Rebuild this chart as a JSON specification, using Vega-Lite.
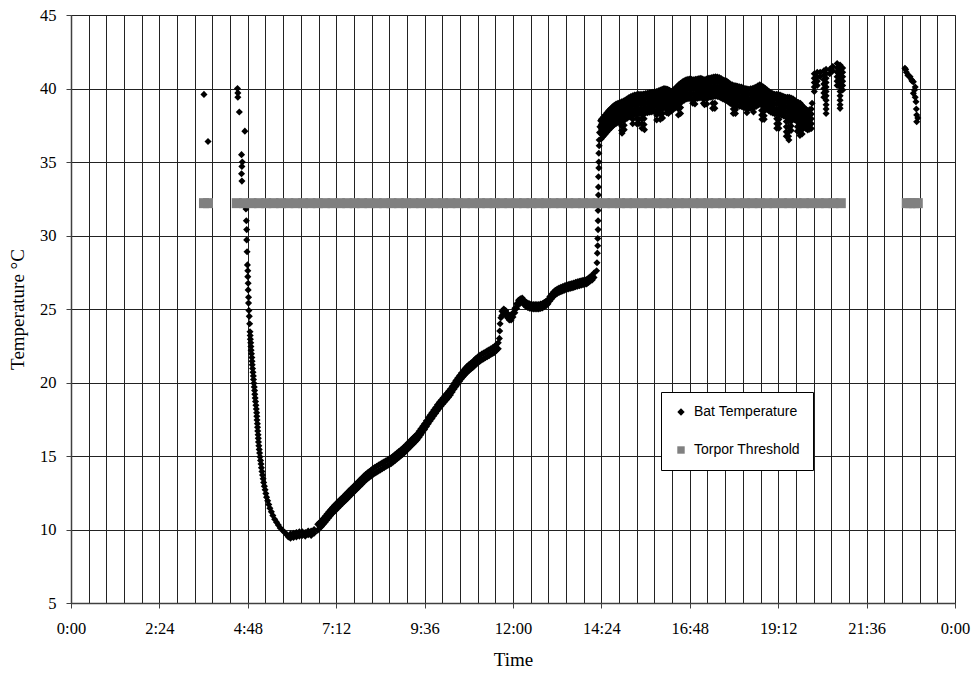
{
"$schema": "https://vega.github.io/schema/vega-lite/v6.json",
"width": 884, "height": 588,
"autosize": "none",
"padding": {"left": 71, "top": 15, "right": 20, "bottom": 78},
"background": "white",
"config": {
 "view": {"stroke": "#808080", "strokeWidth": 1},
 "axis": {"labelFont": "Liberation Serif", "labelFontSize": 16.5, "labelColor": "black", "titleFont": "Liberation Serif", "titleFontSize": 19, "titleFontWeight": "normal", "titleColor": "black", "grid": true, "gridColor": "#222222", "gridWidth": 1, "gridOpacity": 1, "domainColor": "#404040", "domainWidth": 1.5, "tickColor": "#404040", "tickSize": 5, "labelOverlap": false, "labelFlush": false},
 "legend": {"orient": "none", "legendX": 590, "legendY": 377, "labelFont": "Liberation Sans", "labelFontSize": 14, "labelColor": "black", "padding": 13, "rowPadding": 24, "strokeColor": "black", "fillColor": "white", "symbolSize": 55, "symbolStrokeWidth": 0, "labelOffset": 6}
},
"datasets": {
"threshold": [
{"t":3.61,"thr":32.2},{"t":3.72,"thr":32.2},
{"t":4.5,"thr":32.2},{"t":4.7,"thr":32.2},{"t":4.9,"thr":32.2},{"t":5.1,"thr":32.2},{"t":5.3,"thr":32.2},{"t":5.5,"thr":32.2},{"t":5.7,"thr":32.2},{"t":5.9,"thr":32.2},{"t":6.1,"thr":32.2},{"t":6.3,"thr":32.2},{"t":6.5,"thr":32.2},{"t":6.7,"thr":32.2},{"t":6.9,"thr":32.2},{"t":7.1,"thr":32.2},{"t":7.3,"thr":32.2},{"t":7.5,"thr":32.2},{"t":7.7,"thr":32.2},{"t":7.9,"thr":32.2},{"t":8.1,"thr":32.2},{"t":8.3,"thr":32.2},{"t":8.5,"thr":32.2},{"t":8.7,"thr":32.2},{"t":8.9,"thr":32.2},{"t":9.1,"thr":32.2},{"t":9.3,"thr":32.2},{"t":9.5,"thr":32.2},{"t":9.7,"thr":32.2},{"t":9.9,"thr":32.2},{"t":10.1,"thr":32.2},{"t":10.3,"thr":32.2},{"t":10.5,"thr":32.2},{"t":10.7,"thr":32.2},{"t":10.9,"thr":32.2},{"t":11.1,"thr":32.2},{"t":11.3,"thr":32.2},{"t":11.5,"thr":32.2},{"t":11.7,"thr":32.2},{"t":11.9,"thr":32.2},{"t":12.1,"thr":32.2},{"t":12.3,"thr":32.2},{"t":12.5,"thr":32.2},{"t":12.7,"thr":32.2},{"t":12.9,"thr":32.2},{"t":13.1,"thr":32.2},{"t":13.3,"thr":32.2},{"t":13.5,"thr":32.2},{"t":13.7,"thr":32.2},{"t":13.9,"thr":32.2},{"t":14.1,"thr":32.2},{"t":14.3,"thr":32.2},{"t":14.5,"thr":32.2},{"t":14.7,"thr":32.2},{"t":14.9,"thr":32.2},{"t":15.1,"thr":32.2},{"t":15.3,"thr":32.2},{"t":15.5,"thr":32.2},{"t":15.7,"thr":32.2},{"t":15.9,"thr":32.2},{"t":16.1,"thr":32.2},{"t":16.3,"thr":32.2},{"t":16.5,"thr":32.2},{"t":16.7,"thr":32.2},{"t":16.9,"thr":32.2},{"t":17.1,"thr":32.2},{"t":17.3,"thr":32.2},{"t":17.5,"thr":32.2},{"t":17.7,"thr":32.2},{"t":17.9,"thr":32.2},{"t":18.1,"thr":32.2},{"t":18.3,"thr":32.2},{"t":18.5,"thr":32.2},{"t":18.7,"thr":32.2},{"t":18.9,"thr":32.2},{"t":19.1,"thr":32.2},{"t":19.3,"thr":32.2},{"t":19.5,"thr":32.2},{"t":19.7,"thr":32.2},{"t":19.9,"thr":32.2},{"t":20.1,"thr":32.2},{"t":20.3,"thr":32.2},{"t":20.5,"thr":32.2},{"t":20.7,"thr":32.2},{"t":20.9,"thr":32.2},
{"t":22.69,"thr":32.2},{"t":22.79,"thr":32.2},{"t":22.89,"thr":32.2},{"t":22.99,"thr":32.2}
],
"bat": [
{"t":3.61,"b":39.6},{"t":3.72,"b":36.4},
{"t":4.52,"b":40.0},{"t":4.53,"b":39.7},{"t":4.53,"b":39.4},{"t":4.57,"b":38.4},{"t":4.72,"b":37.1},{"t":4.63,"b":35.5},{"t":4.65,"b":35.0},{"t":4.64,"b":34.7},{"t":4.63,"b":34.2},{"t":4.64,"b":33.7},
{"t":4.75,"b":31.8},{"t":4.76,"b":31.0},{"t":4.77,"b":30.4},{"t":4.77,"b":29.7},{"t":4.78,"b":28.9},{"t":4.79,"b":28.0},{"t":4.8,"b":27.6},{"t":4.8,"b":27.2},{"t":4.81,"b":26.75},{"t":4.81,"b":26.3},{"t":4.82,"b":25.8},{"t":4.82,"b":25.4},{"t":4.83,"b":24.9},{"t":4.84,"b":24.5},{"t":4.85,"b":24.0},
{"t":4.86,"b":23.45},{"t":4.865,"b":23.2},{"t":4.87,"b":22.95},{"t":4.88,"b":22.7},{"t":4.885,"b":22.45},{"t":4.89,"b":22.2},{"t":4.9,"b":21.95},{"t":4.91,"b":21.7},{"t":4.915,"b":21.45},{"t":4.92,"b":21.2},{"t":4.93,"b":20.95},{"t":4.94,"b":20.7},{"t":4.95,"b":20.45},{"t":4.955,"b":20.2},{"t":4.965,"b":19.95},{"t":4.975,"b":19.7},{"t":4.985,"b":19.45},{"t":4.99,"b":19.2},{"t":5.0,"b":18.95},{"t":5.01,"b":18.7},{"t":5.02,"b":18.45},{"t":5.03,"b":18.2},{"t":5.04,"b":17.95},{"t":5.045,"b":17.7},{"t":5.05,"b":17.45},{"t":5.06,"b":17.2},{"t":5.065,"b":16.95},{"t":5.07,"b":16.7},{"t":5.08,"b":16.45},{"t":5.085,"b":16.2},{"t":5.09,"b":15.95},{"t":5.1,"b":15.7},{"t":5.11,"b":15.45},{"t":5.12,"b":15.2},{"t":5.13,"b":14.95},{"t":5.145,"b":14.7},{"t":5.16,"b":14.45},{"t":5.17,"b":14.2},{"t":5.185,"b":13.95},{"t":5.2,"b":13.7},{"t":5.215,"b":13.45},{"t":5.23,"b":13.2},{"t":5.25,"b":12.95},{"t":5.27,"b":12.7},{"t":5.29,"b":12.45},{"t":5.31,"b":12.2},{"t":5.34,"b":11.95},{"t":5.37,"b":11.7},{"t":5.4,"b":11.45},{"t":5.44,"b":11.2},{"t":5.48,"b":10.95},{"t":5.53,"b":10.7},{"t":5.58,"b":10.5},{"t":5.63,"b":10.3},{"t":5.68,"b":10.1},{"t":5.74,"b":9.95},{"t":5.8,"b":9.8},{"t":5.86,"b":9.65},{"t":5.9,"b":9.5},
{"t":5.96,"b":9.4},{"t":5.96,"b":9.7},{"t":6.04,"b":9.45},{"t":6.04,"b":9.75},{"t":6.12,"b":9.5},{"t":6.12,"b":9.8},{"t":6.2,"b":9.55},{"t":6.2,"b":9.85},{"t":6.28,"b":9.6},{"t":6.28,"b":9.85},{"t":6.36,"b":9.55},{"t":6.36,"b":9.8},{"t":6.44,"b":9.65},{"t":6.44,"b":9.9},{"t":6.52,"b":9.6},{"t":6.52,"b":9.9},{"t":6.6,"b":9.75},{"t":6.6,"b":10.0},
{"t":6.7,"b":9.95},{"t":6.7,"b":10.35},{"t":6.75,"b":10.08},{"t":6.75,"b":10.48},{"t":6.8,"b":10.2},{"t":6.8,"b":10.6},{"t":6.85,"b":10.35},{"t":6.85,"b":10.75},{"t":6.9,"b":10.5},{"t":6.9,"b":10.9},{"t":6.95,"b":10.65},{"t":6.95,"b":11.05},{"t":7.0,"b":10.8},{"t":7.0,"b":11.2},{"t":7.05,"b":10.95},{"t":7.05,"b":11.35},{"t":7.1,"b":11.1},{"t":7.1,"b":11.5},{"t":7.15,"b":11.23},{"t":7.15,"b":11.63},{"t":7.2,"b":11.35},{"t":7.2,"b":11.75},{"t":7.25,"b":11.48},{"t":7.25,"b":11.88},{"t":7.3,"b":11.6},{"t":7.3,"b":12.0},{"t":7.35,"b":11.73},{"t":7.35,"b":12.13},{"t":7.4,"b":11.85},{"t":7.4,"b":12.25},{"t":7.45,"b":11.98},{"t":7.45,"b":12.38},{"t":7.5,"b":12.1},{"t":7.5,"b":12.5},{"t":7.55,"b":12.23},{"t":7.55,"b":12.63},{"t":7.6,"b":12.35},{"t":7.6,"b":12.75},{"t":7.65,"b":12.48},{"t":7.65,"b":12.88},{"t":7.7,"b":12.6},{"t":7.7,"b":13.0},{"t":7.75,"b":12.73},{"t":7.75,"b":13.13},{"t":7.8,"b":12.85},{"t":7.8,"b":13.25},{"t":7.85,"b":12.98},{"t":7.85,"b":13.38},{"t":7.9,"b":13.1},{"t":7.9,"b":13.5},{"t":7.95,"b":13.23},{"t":7.95,"b":13.63},{"t":8.0,"b":13.35},{"t":8.0,"b":13.75},{"t":8.05,"b":13.45},{"t":8.05,"b":13.85},{"t":8.1,"b":13.55},{"t":8.1,"b":13.95},{"t":8.15,"b":13.65},{"t":8.15,"b":14.05},{"t":8.2,"b":13.75},{"t":8.2,"b":14.15},{"t":8.25,"b":13.83},{"t":8.25,"b":14.23},{"t":8.3,"b":13.9},{"t":8.3,"b":14.3},{"t":8.35,"b":13.98},{"t":8.35,"b":14.38},{"t":8.4,"b":14.05},{"t":8.4,"b":14.45},{"t":8.45,"b":14.13},{"t":8.45,"b":14.53},{"t":8.5,"b":14.2},{"t":8.5,"b":14.6},{"t":8.55,"b":14.28},{"t":8.55,"b":14.68},{"t":8.6,"b":14.35},{"t":8.6,"b":14.75},{"t":8.65,"b":14.43},{"t":8.65,"b":14.83},{"t":8.7,"b":14.5},{"t":8.7,"b":14.9},{"t":8.75,"b":14.6},{"t":8.75,"b":15.0},{"t":8.8,"b":14.7},{"t":8.8,"b":15.1},{"t":8.85,"b":14.8},{"t":8.85,"b":15.2},{"t":8.9,"b":14.9},{"t":8.9,"b":15.3},{"t":8.95,"b":15.0},{"t":8.95,"b":15.4},{"t":9.0,"b":15.1},{"t":9.0,"b":15.5},{"t":9.05,"b":15.23},{"t":9.05,"b":15.63},{"t":9.1,"b":15.35},{"t":9.1,"b":15.75},{"t":9.15,"b":15.48},{"t":9.15,"b":15.88},{"t":9.2,"b":15.6},{"t":9.2,"b":16.0},{"t":9.25,"b":15.73},{"t":9.25,"b":16.13},{"t":9.3,"b":15.85},{"t":9.3,"b":16.25},{"t":9.35,"b":15.98},{"t":9.35,"b":16.38},{"t":9.4,"b":16.1},{"t":9.4,"b":16.5},{"t":9.45,"b":16.28},{"t":9.45,"b":16.68},{"t":9.5,"b":16.45},{"t":9.5,"b":16.85},{"t":9.55,"b":16.63},{"t":9.55,"b":17.03},{"t":9.6,"b":16.8},{"t":9.6,"b":17.2},{"t":9.65,"b":17.0},{"t":9.65,"b":17.4},{"t":9.7,"b":17.2},{"t":9.7,"b":17.6},{"t":9.75,"b":17.38},{"t":9.75,"b":17.78},{"t":9.8,"b":17.55},{"t":9.8,"b":17.95},{"t":9.85,"b":17.73},{"t":9.85,"b":18.13},{"t":9.9,"b":17.9},{"t":9.9,"b":18.3},{"t":9.95,"b":18.08},{"t":9.95,"b":18.48},{"t":10.0,"b":18.25},{"t":10.0,"b":18.65},{"t":10.05,"b":18.4},{"t":10.05,"b":18.8},{"t":10.1,"b":18.55},{"t":10.1,"b":18.95},{"t":10.15,"b":18.7},{"t":10.15,"b":19.1},{"t":10.2,"b":18.85},{"t":10.2,"b":19.25},{"t":10.25,"b":19.0},{"t":10.25,"b":19.4},{"t":10.3,"b":19.15},{"t":10.3,"b":19.55},{"t":10.35,"b":19.35},{"t":10.35,"b":19.75},{"t":10.4,"b":19.55},{"t":10.4,"b":19.95},{"t":10.45,"b":19.73},{"t":10.45,"b":20.13},{"t":10.5,"b":19.9},{"t":10.5,"b":20.3},{"t":10.55,"b":20.08},{"t":10.55,"b":20.48},{"t":10.6,"b":20.25},{"t":10.6,"b":20.65},{"t":10.65,"b":20.4},{"t":10.65,"b":20.8},{"t":10.7,"b":20.55},{"t":10.7,"b":20.95},{"t":10.75,"b":20.68},{"t":10.75,"b":21.08},{"t":10.8,"b":20.8},{"t":10.8,"b":21.2},{"t":10.85,"b":20.9},{"t":10.85,"b":21.3},{"t":10.9,"b":21.0},{"t":10.9,"b":21.4},{"t":10.95,"b":21.13},{"t":10.95,"b":21.53},{"t":11.0,"b":21.25},{"t":11.0,"b":21.65},{"t":11.05,"b":21.35},{"t":11.05,"b":21.75},{"t":11.1,"b":21.45},{"t":11.1,"b":21.85},{"t":11.15,"b":21.53},{"t":11.15,"b":21.93},{"t":11.2,"b":21.6},{"t":11.2,"b":22.0},{"t":11.25,"b":21.68},{"t":11.25,"b":22.08},{"t":11.3,"b":21.75},{"t":11.3,"b":22.15},{"t":11.35,"b":21.83},{"t":11.35,"b":22.23},{"t":11.4,"b":21.9},{"t":11.4,"b":22.3},{"t":11.45,"b":21.98},{"t":11.45,"b":22.38},{"t":11.5,"b":22.05},{"t":11.5,"b":22.45},{"t":11.55,"b":22.18},{"t":11.55,"b":22.58},{"t":11.6,"b":22.3},{"t":11.6,"b":22.7},
{"t":11.63,"b":23.0},{"t":11.64,"b":23.5},{"t":11.65,"b":24.0},{"t":11.67,"b":24.4},
{"t":11.7,"b":24.55},{"t":11.7,"b":24.85},{"t":11.75,"b":24.7},{"t":11.75,"b":25.0},{"t":11.8,"b":24.6},{"t":11.8,"b":24.9},{"t":11.85,"b":24.4},{"t":11.85,"b":24.7},{"t":11.9,"b":24.25},{"t":11.9,"b":24.55},{"t":11.95,"b":24.25},{"t":11.95,"b":24.55},{"t":12.0,"b":24.45},{"t":12.0,"b":24.75},{"t":12.05,"b":24.75},{"t":12.05,"b":25.05},{"t":12.1,"b":25.05},{"t":12.1,"b":25.35},{"t":12.15,"b":25.3},{"t":12.15,"b":25.6},{"t":12.2,"b":25.4},{"t":12.2,"b":25.7},{"t":12.25,"b":25.45},{"t":12.25,"b":25.75},{"t":12.3,"b":25.3},{"t":12.3,"b":25.6},{"t":12.35,"b":25.17},{"t":12.35,"b":25.47},{"t":12.4,"b":25.1},{"t":12.4,"b":25.4},{"t":12.45,"b":25.05},{"t":12.45,"b":25.35},{"t":12.5,"b":25.02},{"t":12.5,"b":25.32},{"t":12.55,"b":25.0},{"t":12.55,"b":25.3},{"t":12.6,"b":25.0},{"t":12.6,"b":25.3},{"t":12.65,"b":25.0},{"t":12.65,"b":25.3},{"t":12.7,"b":25.0},{"t":12.7,"b":25.3},{"t":12.75,"b":25.03},{"t":12.75,"b":25.33},{"t":12.8,"b":25.07},{"t":12.8,"b":25.37},{"t":12.85,"b":25.15},{"t":12.85,"b":25.45},{"t":12.9,"b":25.23},{"t":12.9,"b":25.53},{"t":12.95,"b":25.35},{"t":12.95,"b":25.65},{"t":13.0,"b":25.55},{"t":13.0,"b":25.85},{"t":13.05,"b":25.7},{"t":13.05,"b":26.0},{"t":13.1,"b":25.85},{"t":13.1,"b":26.15},{"t":13.15,"b":25.97},{"t":13.15,"b":26.27},{"t":13.2,"b":26.05},{"t":13.2,"b":26.35},{"t":13.25,"b":26.12},{"t":13.25,"b":26.42},{"t":13.3,"b":26.17},{"t":13.3,"b":26.47},{"t":13.35,"b":26.23},{"t":13.35,"b":26.53},{"t":13.4,"b":26.28},{"t":13.4,"b":26.58},{"t":13.45,"b":26.33},{"t":13.45,"b":26.63},{"t":13.5,"b":26.37},{"t":13.5,"b":26.67},{"t":13.55,"b":26.4},{"t":13.55,"b":26.7},{"t":13.6,"b":26.43},{"t":13.6,"b":26.73},{"t":13.65,"b":26.47},{"t":13.65,"b":26.77},{"t":13.7,"b":26.51},{"t":13.7,"b":26.81},{"t":13.75,"b":26.55},{"t":13.75,"b":26.85},{"t":13.8,"b":26.59},{"t":13.8,"b":26.89},{"t":13.85,"b":26.62},{"t":13.85,"b":26.92},{"t":13.9,"b":26.65},{"t":13.9,"b":26.95},{"t":13.95,"b":26.68},{"t":13.95,"b":26.98},{"t":14.0,"b":26.71},{"t":14.0,"b":27.01},{"t":14.05,"b":26.8},{"t":14.05,"b":27.1},{"t":14.1,"b":26.9},{"t":14.1,"b":27.2},{"t":14.15,"b":26.97},{"t":14.15,"b":27.27},{"t":14.2,"b":27.15},{"t":14.2,"b":27.45},
{"t":14.27,"b":27.6},{"t":14.28,"b":28.15},{"t":14.29,"b":28.8},{"t":14.3,"b":29.3},{"t":14.3,"b":29.8},{"t":14.31,"b":30.4},{"t":14.31,"b":31.0},{"t":14.31,"b":31.7},{"t":14.32,"b":32.3},{"t":14.32,"b":32.75},{"t":14.32,"b":33.3},{"t":14.32,"b":34.0},{"t":14.33,"b":34.6},{"t":14.33,"b":35.0},{"t":14.33,"b":35.6},{"t":14.34,"b":36.1},{"t":14.34,"b":36.5},{"t":14.35,"b":37.0},{"t":14.36,"b":37.4},{"t":14.38,"b":37.8},
{"t":14.4,"b":37.9},{"t":14.4,"b":37.57},{"t":14.4,"b":37.24},{"t":14.4,"b":36.91},{"t":14.4,"b":36.58},
{"t":14.45,"b":38.05},{"t":14.45,"b":37.72},{"t":14.45,"b":37.39},{"t":14.45,"b":37.06},{"t":14.45,"b":36.73},
{"t":14.5,"b":38.2},{"t":14.5,"b":37.87},{"t":14.5,"b":37.54},{"t":14.5,"b":37.21},{"t":14.5,"b":36.88},
{"t":14.55,"b":38.35},{"t":14.55,"b":38.02},{"t":14.55,"b":37.69},{"t":14.55,"b":37.36},{"t":14.55,"b":37.03},
{"t":14.6,"b":38.5},{"t":14.6,"b":38.17},{"t":14.6,"b":37.84},{"t":14.6,"b":37.51},{"t":14.6,"b":37.18},
{"t":14.65,"b":38.62},{"t":14.65,"b":38.29},{"t":14.65,"b":37.96},{"t":14.65,"b":37.63},{"t":14.65,"b":37.3},
{"t":14.7,"b":38.75},{"t":14.7,"b":38.42},{"t":14.7,"b":38.09},{"t":14.7,"b":37.76},{"t":14.7,"b":37.43},
{"t":14.75,"b":38.85},{"t":14.75,"b":38.52},{"t":14.75,"b":38.19},{"t":14.75,"b":37.86},{"t":14.75,"b":37.53},
{"t":14.8,"b":38.95},{"t":14.8,"b":38.62},{"t":14.8,"b":38.29},{"t":14.8,"b":37.96},{"t":14.8,"b":37.63},
{"t":14.85,"b":39.0},{"t":14.85,"b":38.67},{"t":14.85,"b":38.34},{"t":14.85,"b":38.01},{"t":14.85,"b":37.68},
{"t":14.9,"b":39.05},{"t":14.9,"b":38.72},{"t":14.9,"b":38.39},{"t":14.9,"b":38.06},{"t":14.9,"b":37.73},
{"t":14.95,"b":39.1},{"t":14.95,"b":38.77},{"t":14.95,"b":38.44},{"t":14.95,"b":38.11},{"t":14.95,"b":37.78},
{"t":15.0,"b":39.15},{"t":15.0,"b":38.82},{"t":15.0,"b":38.49},{"t":15.0,"b":38.16},{"t":15.0,"b":37.83},
{"t":15.05,"b":39.22},{"t":15.05,"b":38.89},{"t":15.05,"b":38.56},{"t":15.05,"b":38.23},{"t":15.05,"b":37.9},
{"t":15.1,"b":39.3},{"t":15.1,"b":38.97},{"t":15.1,"b":38.64},{"t":15.1,"b":38.31},{"t":15.1,"b":37.98},
{"t":15.15,"b":39.38},{"t":15.15,"b":39.05},{"t":15.15,"b":38.72},{"t":15.15,"b":38.39},{"t":15.15,"b":38.06},
{"t":15.2,"b":39.45},{"t":15.2,"b":39.12},{"t":15.2,"b":38.79},{"t":15.2,"b":38.46},{"t":15.2,"b":38.13},
{"t":15.25,"b":39.5},{"t":15.25,"b":39.17},{"t":15.25,"b":38.84},{"t":15.25,"b":38.51},{"t":15.25,"b":38.18},
{"t":15.3,"b":39.55},{"t":15.3,"b":39.22},{"t":15.3,"b":38.89},{"t":15.3,"b":38.56},{"t":15.3,"b":38.23},
{"t":15.35,"b":39.58},{"t":15.35,"b":39.25},{"t":15.35,"b":38.92},{"t":15.35,"b":38.59},{"t":15.35,"b":38.26},
{"t":15.4,"b":39.6},{"t":15.4,"b":39.27},{"t":15.4,"b":38.94},{"t":15.4,"b":38.61},{"t":15.4,"b":38.28},
{"t":15.45,"b":39.6},{"t":15.45,"b":39.27},{"t":15.45,"b":38.94},{"t":15.45,"b":38.61},{"t":15.45,"b":38.28},
{"t":15.5,"b":39.6},{"t":15.5,"b":39.27},{"t":15.5,"b":38.94},{"t":15.5,"b":38.61},{"t":15.5,"b":38.28},
{"t":15.55,"b":39.62},{"t":15.55,"b":39.29},{"t":15.55,"b":38.96},{"t":15.55,"b":38.63},{"t":15.55,"b":38.3},
{"t":15.6,"b":39.65},{"t":15.6,"b":39.32},{"t":15.6,"b":38.99},{"t":15.6,"b":38.66},{"t":15.6,"b":38.33},
{"t":15.65,"b":39.68},{"t":15.65,"b":39.35},{"t":15.65,"b":39.02},{"t":15.65,"b":38.69},{"t":15.65,"b":38.36},
{"t":15.7,"b":39.7},{"t":15.7,"b":39.37},{"t":15.7,"b":39.04},{"t":15.7,"b":38.71},{"t":15.7,"b":38.38},
{"t":15.75,"b":39.72},{"t":15.75,"b":39.39},{"t":15.75,"b":39.06},{"t":15.75,"b":38.73},{"t":15.75,"b":38.4},
{"t":15.8,"b":39.75},{"t":15.8,"b":39.42},{"t":15.8,"b":39.09},{"t":15.8,"b":38.76},{"t":15.8,"b":38.43},
{"t":15.85,"b":39.78},{"t":15.85,"b":39.45},{"t":15.85,"b":39.12},{"t":15.85,"b":38.79},{"t":15.85,"b":38.46},
{"t":15.9,"b":39.8},{"t":15.9,"b":39.47},{"t":15.9,"b":39.14},{"t":15.9,"b":38.81},{"t":15.9,"b":38.48},
{"t":15.95,"b":39.85},{"t":15.95,"b":39.52},{"t":15.95,"b":39.19},{"t":15.95,"b":38.86},{"t":15.95,"b":38.53},
{"t":16.0,"b":39.9},{"t":16.0,"b":39.57},{"t":16.0,"b":39.24},{"t":16.0,"b":38.91},{"t":16.0,"b":38.58},
{"t":16.05,"b":39.95},{"t":16.05,"b":39.62},{"t":16.05,"b":39.29},{"t":16.05,"b":38.96},{"t":16.05,"b":38.63},
{"t":16.1,"b":40.0},{"t":16.1,"b":39.67},{"t":16.1,"b":39.34},{"t":16.1,"b":39.01},{"t":16.1,"b":38.68},
{"t":16.15,"b":39.98},{"t":16.15,"b":39.65},{"t":16.15,"b":39.32},{"t":16.15,"b":38.99},{"t":16.15,"b":38.66},
{"t":16.2,"b":39.95},{"t":16.2,"b":39.62},{"t":16.2,"b":39.29},{"t":16.2,"b":38.96},{"t":16.2,"b":38.63},
{"t":16.25,"b":39.88},{"t":16.25,"b":39.55},{"t":16.25,"b":39.22},{"t":16.25,"b":38.89},{"t":16.25,"b":38.56},
{"t":16.3,"b":39.8},{"t":16.3,"b":39.47},{"t":16.3,"b":39.14},{"t":16.3,"b":38.81},{"t":16.3,"b":38.48},
{"t":16.35,"b":39.9},{"t":16.35,"b":39.57},{"t":16.35,"b":39.24},{"t":16.35,"b":38.91},{"t":16.35,"b":38.58},
{"t":16.4,"b":40.0},{"t":16.4,"b":39.67},{"t":16.4,"b":39.34},{"t":16.4,"b":39.01},{"t":16.4,"b":38.68},
{"t":16.45,"b":40.12},{"t":16.45,"b":39.79},{"t":16.45,"b":39.46},{"t":16.45,"b":39.13},{"t":16.45,"b":38.8},
{"t":16.5,"b":40.25},{"t":16.5,"b":39.92},{"t":16.5,"b":39.59},{"t":16.5,"b":39.26},{"t":16.5,"b":38.93},
{"t":16.55,"b":40.35},{"t":16.55,"b":40.02},{"t":16.55,"b":39.69},{"t":16.55,"b":39.36},{"t":16.55,"b":39.03},
{"t":16.6,"b":40.45},{"t":16.6,"b":40.12},{"t":16.6,"b":39.79},{"t":16.6,"b":39.46},{"t":16.6,"b":39.13},
{"t":16.65,"b":40.52},{"t":16.65,"b":40.19},{"t":16.65,"b":39.86},{"t":16.65,"b":39.53},{"t":16.65,"b":39.2},
{"t":16.7,"b":40.6},{"t":16.7,"b":40.27},{"t":16.7,"b":39.94},{"t":16.7,"b":39.61},{"t":16.7,"b":39.28},
{"t":16.75,"b":40.62},{"t":16.75,"b":40.29},{"t":16.75,"b":39.96},{"t":16.75,"b":39.63},{"t":16.75,"b":39.3},
{"t":16.8,"b":40.65},{"t":16.8,"b":40.32},{"t":16.8,"b":39.99},{"t":16.8,"b":39.66},{"t":16.8,"b":39.33},
{"t":16.85,"b":40.62},{"t":16.85,"b":40.29},{"t":16.85,"b":39.96},{"t":16.85,"b":39.63},{"t":16.85,"b":39.3},
{"t":16.9,"b":40.6},{"t":16.9,"b":40.27},{"t":16.9,"b":39.94},{"t":16.9,"b":39.61},{"t":16.9,"b":39.28},
{"t":16.95,"b":40.62},{"t":16.95,"b":40.29},{"t":16.95,"b":39.96},{"t":16.95,"b":39.63},{"t":16.95,"b":39.3},
{"t":17.0,"b":40.65},{"t":17.0,"b":40.32},{"t":17.0,"b":39.99},{"t":17.0,"b":39.66},{"t":17.0,"b":39.33},
{"t":17.05,"b":40.68},{"t":17.05,"b":40.35},{"t":17.05,"b":40.02},{"t":17.05,"b":39.69},{"t":17.05,"b":39.36},
{"t":17.1,"b":40.7},{"t":17.1,"b":40.37},{"t":17.1,"b":40.04},{"t":17.1,"b":39.71},{"t":17.1,"b":39.38},
{"t":17.15,"b":40.65},{"t":17.15,"b":40.32},{"t":17.15,"b":39.99},{"t":17.15,"b":39.66},{"t":17.15,"b":39.33},
{"t":17.2,"b":40.6},{"t":17.2,"b":40.27},{"t":17.2,"b":39.94},{"t":17.2,"b":39.61},{"t":17.2,"b":39.28},
{"t":17.25,"b":40.65},{"t":17.25,"b":40.32},{"t":17.25,"b":39.99},{"t":17.25,"b":39.66},{"t":17.25,"b":39.33},
{"t":17.3,"b":40.7},{"t":17.3,"b":40.37},{"t":17.3,"b":40.04},{"t":17.3,"b":39.71},{"t":17.3,"b":39.38},
{"t":17.35,"b":40.72},{"t":17.35,"b":40.39},{"t":17.35,"b":40.06},{"t":17.35,"b":39.73},{"t":17.35,"b":39.4},
{"t":17.4,"b":40.75},{"t":17.4,"b":40.42},{"t":17.4,"b":40.09},{"t":17.4,"b":39.76},{"t":17.4,"b":39.43},
{"t":17.45,"b":40.78},{"t":17.45,"b":40.45},{"t":17.45,"b":40.12},{"t":17.45,"b":39.79},{"t":17.45,"b":39.46},
{"t":17.5,"b":40.8},{"t":17.5,"b":40.47},{"t":17.5,"b":40.14},{"t":17.5,"b":39.81},{"t":17.5,"b":39.48},
{"t":17.55,"b":40.78},{"t":17.55,"b":40.45},{"t":17.55,"b":40.12},{"t":17.55,"b":39.79},{"t":17.55,"b":39.46},
{"t":17.6,"b":40.75},{"t":17.6,"b":40.42},{"t":17.6,"b":40.09},{"t":17.6,"b":39.76},{"t":17.6,"b":39.43},
{"t":17.65,"b":40.68},{"t":17.65,"b":40.35},{"t":17.65,"b":40.02},{"t":17.65,"b":39.69},{"t":17.65,"b":39.36},
{"t":17.7,"b":40.6},{"t":17.7,"b":40.27},{"t":17.7,"b":39.94},{"t":17.7,"b":39.61},{"t":17.7,"b":39.28},
{"t":17.75,"b":40.55},{"t":17.75,"b":40.22},{"t":17.75,"b":39.89},{"t":17.75,"b":39.56},{"t":17.75,"b":39.23},
{"t":17.8,"b":40.5},{"t":17.8,"b":40.17},{"t":17.8,"b":39.84},{"t":17.8,"b":39.51},{"t":17.8,"b":39.18},
{"t":17.85,"b":40.4},{"t":17.85,"b":40.07},{"t":17.85,"b":39.74},{"t":17.85,"b":39.41},{"t":17.85,"b":39.08},
{"t":17.9,"b":40.3},{"t":17.9,"b":39.97},{"t":17.9,"b":39.64},{"t":17.9,"b":39.31},{"t":17.9,"b":38.98},
{"t":17.95,"b":40.25},{"t":17.95,"b":39.92},{"t":17.95,"b":39.59},{"t":17.95,"b":39.26},{"t":17.95,"b":38.93},
{"t":18.0,"b":40.2},{"t":18.0,"b":39.87},{"t":18.0,"b":39.54},{"t":18.0,"b":39.21},{"t":18.0,"b":38.88},
{"t":18.05,"b":40.18},{"t":18.05,"b":39.85},{"t":18.05,"b":39.52},{"t":18.05,"b":39.19},{"t":18.05,"b":38.86},
{"t":18.1,"b":40.15},{"t":18.1,"b":39.82},{"t":18.1,"b":39.49},{"t":18.1,"b":39.16},{"t":18.1,"b":38.83},
{"t":18.15,"b":40.12},{"t":18.15,"b":39.79},{"t":18.15,"b":39.46},{"t":18.15,"b":39.13},{"t":18.15,"b":38.8},
{"t":18.2,"b":40.1},{"t":18.2,"b":39.77},{"t":18.2,"b":39.44},{"t":18.2,"b":39.11},{"t":18.2,"b":38.78},
{"t":18.25,"b":40.05},{"t":18.25,"b":39.72},{"t":18.25,"b":39.39},{"t":18.25,"b":39.06},{"t":18.25,"b":38.73},
{"t":18.3,"b":40.0},{"t":18.3,"b":39.67},{"t":18.3,"b":39.34},{"t":18.3,"b":39.01},{"t":18.3,"b":38.68},
{"t":18.35,"b":39.98},{"t":18.35,"b":39.65},{"t":18.35,"b":39.32},{"t":18.35,"b":38.99},{"t":18.35,"b":38.66},
{"t":18.4,"b":39.95},{"t":18.4,"b":39.62},{"t":18.4,"b":39.29},{"t":18.4,"b":38.96},{"t":18.4,"b":38.63},
{"t":18.45,"b":39.98},{"t":18.45,"b":39.65},{"t":18.45,"b":39.32},{"t":18.45,"b":38.99},{"t":18.45,"b":38.66},
{"t":18.5,"b":40.0},{"t":18.5,"b":39.67},{"t":18.5,"b":39.34},{"t":18.5,"b":39.01},{"t":18.5,"b":38.68},
{"t":18.55,"b":40.05},{"t":18.55,"b":39.72},{"t":18.55,"b":39.39},{"t":18.55,"b":39.06},{"t":18.55,"b":38.73},
{"t":18.6,"b":40.1},{"t":18.6,"b":39.77},{"t":18.6,"b":39.44},{"t":18.6,"b":39.11},{"t":18.6,"b":38.78},
{"t":18.65,"b":40.18},{"t":18.65,"b":39.85},{"t":18.65,"b":39.52},{"t":18.65,"b":39.19},{"t":18.65,"b":38.86},
{"t":18.7,"b":40.25},{"t":18.7,"b":39.92},{"t":18.7,"b":39.59},{"t":18.7,"b":39.26},{"t":18.7,"b":38.93},
{"t":18.75,"b":40.18},{"t":18.75,"b":39.85},{"t":18.75,"b":39.52},{"t":18.75,"b":39.19},{"t":18.75,"b":38.86},
{"t":18.8,"b":40.1},{"t":18.8,"b":39.77},{"t":18.8,"b":39.44},{"t":18.8,"b":39.11},{"t":18.8,"b":38.78},
{"t":18.85,"b":40.0},{"t":18.85,"b":39.67},{"t":18.85,"b":39.34},{"t":18.85,"b":39.01},{"t":18.85,"b":38.68},
{"t":18.9,"b":39.9},{"t":18.9,"b":39.57},{"t":18.9,"b":39.24},{"t":18.9,"b":38.91},{"t":18.9,"b":38.58},
{"t":18.95,"b":39.8},{"t":18.95,"b":39.47},{"t":18.95,"b":39.14},{"t":18.95,"b":38.81},{"t":18.95,"b":38.48},
{"t":19.0,"b":39.7},{"t":19.0,"b":39.37},{"t":19.0,"b":39.04},{"t":19.0,"b":38.71},{"t":19.0,"b":38.38},
{"t":19.05,"b":39.65},{"t":19.05,"b":39.32},{"t":19.05,"b":38.99},{"t":19.05,"b":38.66},{"t":19.05,"b":38.33},
{"t":19.1,"b":39.6},{"t":19.1,"b":39.27},{"t":19.1,"b":38.94},{"t":19.1,"b":38.61},{"t":19.1,"b":38.28},
{"t":19.15,"b":39.6},{"t":19.15,"b":39.27},{"t":19.15,"b":38.94},{"t":19.15,"b":38.61},{"t":19.15,"b":38.28},
{"t":19.2,"b":39.6},{"t":19.2,"b":39.27},{"t":19.2,"b":38.94},{"t":19.2,"b":38.61},{"t":19.2,"b":38.28},
{"t":19.25,"b":39.55},{"t":19.25,"b":39.22},{"t":19.25,"b":38.89},{"t":19.25,"b":38.56},{"t":19.25,"b":38.23},
{"t":19.3,"b":39.5},{"t":19.3,"b":39.17},{"t":19.3,"b":38.84},{"t":19.3,"b":38.51},{"t":19.3,"b":38.18},
{"t":19.35,"b":39.45},{"t":19.35,"b":39.12},{"t":19.35,"b":38.79},{"t":19.35,"b":38.46},{"t":19.35,"b":38.13},
{"t":19.4,"b":39.4},{"t":19.4,"b":39.07},{"t":19.4,"b":38.74},{"t":19.4,"b":38.41},{"t":19.4,"b":38.08},
{"t":19.45,"b":39.4},{"t":19.45,"b":39.07},{"t":19.45,"b":38.74},{"t":19.45,"b":38.41},{"t":19.45,"b":38.08},
{"t":19.5,"b":39.4},{"t":19.5,"b":39.07},{"t":19.5,"b":38.74},{"t":19.5,"b":38.41},{"t":19.5,"b":38.08},
{"t":19.55,"b":39.35},{"t":19.55,"b":39.02},{"t":19.55,"b":38.69},{"t":19.55,"b":38.36},{"t":19.55,"b":38.03},
{"t":19.6,"b":39.3},{"t":19.6,"b":38.97},{"t":19.6,"b":38.64},{"t":19.6,"b":38.31},{"t":19.6,"b":37.98},
{"t":19.65,"b":39.2},{"t":19.65,"b":38.87},{"t":19.65,"b":38.54},{"t":19.65,"b":38.21},{"t":19.65,"b":37.88},
{"t":19.7,"b":39.1},{"t":19.7,"b":38.77},{"t":19.7,"b":38.44},{"t":19.7,"b":38.11},{"t":19.7,"b":37.78},
{"t":19.75,"b":39.05},{"t":19.75,"b":38.72},{"t":19.75,"b":38.39},{"t":19.75,"b":38.06},{"t":19.75,"b":37.73},
{"t":19.8,"b":39.0},{"t":19.8,"b":38.67},{"t":19.8,"b":38.34},{"t":19.8,"b":38.01},{"t":19.8,"b":37.68},
{"t":19.85,"b":38.85},{"t":19.85,"b":38.52},{"t":19.85,"b":38.19},{"t":19.85,"b":37.86},{"t":19.85,"b":37.53},
{"t":19.9,"b":38.7},{"t":19.9,"b":38.37},{"t":19.9,"b":38.04},{"t":19.9,"b":37.71},{"t":19.9,"b":37.38},
{"t":19.95,"b":38.6},{"t":19.95,"b":38.27},{"t":19.95,"b":37.94},{"t":19.95,"b":37.61},{"t":19.95,"b":37.28},
{"t":20.0,"b":38.5},{"t":20.0,"b":38.17},{"t":20.0,"b":37.84},{"t":20.0,"b":37.51},{"t":20.0,"b":37.18},
{"t":20.05,"b":38.55},{"t":20.05,"b":38.22},{"t":20.05,"b":37.89},{"t":20.05,"b":37.56},{"t":20.05,"b":37.23},
{"t":20.1,"b":38.6},{"t":20.1,"b":38.27},{"t":20.1,"b":37.94},{"t":20.1,"b":37.61},{"t":20.1,"b":37.28},
{"t":14.95,"b":37.45},{"t":14.95,"b":37.15},{"t":14.96,"b":36.95},{"t":15.02,"b":37.5},{"t":15.02,"b":37.2},
{"t":15.25,"b":37.9},{"t":15.25,"b":37.6},
{"t":15.36,"b":37.95},{"t":15.36,"b":37.6},{"t":15.42,"b":37.9},{"t":15.42,"b":37.6},
{"t":15.5,"b":37.95},{"t":15.5,"b":37.6},{"t":15.5,"b":37.3},{"t":15.56,"b":37.95},{"t":15.56,"b":37.55},{"t":15.57,"b":37.2},
{"t":15.9,"b":38.2},{"t":15.9,"b":37.86},{"t":16.0,"b":38.25},{"t":16.0,"b":37.9},{"t":16.06,"b":38.3},{"t":16.06,"b":38.0},
{"t":16.17,"b":38.35},{"t":16.22,"b":38.3},
{"t":16.49,"b":38.6},{"t":16.49,"b":38.2},{"t":16.55,"b":38.7},{"t":16.55,"b":38.3},
{"t":16.88,"b":39.0},{"t":16.94,"b":38.95},{"t":17.17,"b":39.0},{"t":17.2,"b":38.9},{"t":17.26,"b":38.95},
{"t":17.42,"b":39.0},{"t":17.42,"b":38.65},{"t":17.48,"b":39.0},{"t":17.48,"b":38.65},
{"t":17.98,"b":38.6},{"t":17.98,"b":38.3},{"t":18.04,"b":38.55},{"t":18.04,"b":38.3},
{"t":18.35,"b":38.35},{"t":18.53,"b":38.4},
{"t":18.75,"b":38.5},{"t":18.75,"b":38.2},{"t":18.76,"b":37.9},{"t":18.82,"b":38.45},{"t":18.82,"b":38.15},{"t":18.82,"b":37.9},
{"t":19.16,"b":37.95},{"t":19.16,"b":37.6},{"t":19.16,"b":37.3},{"t":19.22,"b":37.9},{"t":19.22,"b":37.6},{"t":19.22,"b":37.3},
{"t":19.42,"b":37.75},{"t":19.42,"b":37.4},{"t":19.42,"b":37.05},{"t":19.42,"b":36.75},
{"t":19.48,"b":37.75},{"t":19.48,"b":37.4},{"t":19.48,"b":37.05},{"t":19.48,"b":36.75},{"t":19.49,"b":36.5},
{"t":19.55,"b":37.75},{"t":19.55,"b":37.45},{"t":19.55,"b":37.15},
{"t":19.72,"b":37.4},{"t":19.72,"b":37.1},
{"t":19.79,"b":37.35},{"t":19.79,"b":37.05},{"t":19.79,"b":36.8},{"t":19.85,"b":37.2},{"t":19.85,"b":36.9},
{"t":20.12,"b":39.0},
{"t":20.18,"b":41.0},{"t":20.18,"b":40.7},{"t":20.18,"b":40.4},{"t":20.18,"b":40.1},{"t":20.18,"b":39.8},
{"t":20.26,"b":41.1},{"t":20.26,"b":40.8},{"t":20.26,"b":40.5},{"t":20.26,"b":40.2},
{"t":20.34,"b":41.1},{"t":20.34,"b":40.8},
{"t":20.44,"b":41.2},{"t":20.44,"b":40.9},{"t":20.44,"b":40.6},{"t":20.44,"b":40.3},{"t":20.44,"b":40.0},{"t":20.44,"b":39.7},{"t":20.44,"b":39.4},
{"t":20.5,"b":41.3},{"t":20.5,"b":41.0},{"t":20.5,"b":40.7},{"t":20.5,"b":40.4},{"t":20.5,"b":40.1},{"t":20.5,"b":39.8},{"t":20.5,"b":39.5},{"t":20.5,"b":39.2},{"t":20.5,"b":38.9},{"t":20.5,"b":38.6},{"t":20.5,"b":38.3},
{"t":20.6,"b":41.3},{"t":20.6,"b":41.0},{"t":20.68,"b":41.5},{"t":20.68,"b":41.2},
{"t":20.8,"b":41.7},{"t":20.8,"b":41.4},{"t":20.8,"b":41.1},{"t":20.8,"b":40.8},{"t":20.8,"b":40.5},{"t":20.8,"b":40.2},
{"t":20.88,"b":41.6},{"t":20.88,"b":41.3},{"t":20.88,"b":41.0},{"t":20.88,"b":40.7},{"t":20.88,"b":40.4},{"t":20.88,"b":40.1},{"t":20.88,"b":39.8},{"t":20.88,"b":39.5},{"t":20.88,"b":39.2},{"t":20.88,"b":38.9},{"t":20.88,"b":38.65},
{"t":20.95,"b":41.4},{"t":20.95,"b":41.1},{"t":20.95,"b":40.8},{"t":20.95,"b":40.5},{"t":20.95,"b":40.2},{"t":20.95,"b":39.9},
{"t":22.64,"b":41.37},{"t":22.66,"b":41.3},{"t":22.68,"b":41.1},{"t":22.72,"b":40.9},{"t":22.75,"b":40.85},{"t":22.78,"b":40.8},{"t":22.82,"b":40.6},{"t":22.84,"b":40.5},{"t":22.87,"b":40.46},{"t":22.9,"b":39.9},{"t":22.92,"b":40.1},{"t":22.92,"b":39.4},{"t":22.87,"b":39.67},{"t":22.94,"b":39.1},{"t":22.95,"b":38.6},{"t":22.96,"b":38.2},{"t":22.96,"b":37.74},{"t":22.99,"b":38.0}
]
},
"layer": [
 {"data": {"name": "bat"},
  "mark": {"type": "point", "filled": true, "size": 50, "opacity": 1},
  "encoding": {
   "x": {"field": "t", "type": "quantitative", "scale": {"domain": [0, 24], "nice": false, "zero": false},
     "axis": {"title": "Time", "tickCount": 60, "values": [0,0.48,0.96,1.44,1.92,2.4,2.88,3.36,3.84,4.32,4.8,5.28,5.76,6.24,6.72,7.2,7.68,8.16,8.64,9.12,9.6,10.08,10.56,11.04,11.52,12,12.48,12.96,13.44,13.92,14.4,14.88,15.36,15.84,16.32,16.8,17.28,17.76,18.24,18.72,19.2,19.68,20.16,20.64,21.12,21.6,22.08,22.56,23.04,23.52,24],
       "labelExpr": "abs(datum.value/2.4 - round(datum.value/2.4)) < 0.01 ? (floor(datum.value % 24) + ':' + (round((datum.value % 1)*60) < 10 ? '0' : '') + round((datum.value % 1)*60)) : ''",
       "tickOpacity": {"condition": {"test": "abs(datum.value/2.4 - round(datum.value/2.4)) < 0.01", "value": 1}, "value": 0},
       "labelPadding": 12, "titlePadding": 14}},
   "y": {"field": "b", "type": "quantitative", "scale": {"domain": [5, 45], "nice": false, "zero": false},
     "axis": {"title": "Temperature °C", "tickCount": 20, "values": [5,10,15,20,25,30,35,40,45], "labelPadding": 10, "titlePadding": 12}},
   "color": {"datum": "Bat Temperature", "type": "nominal", "scale": {"domain": ["Bat Temperature", "Torpor Threshold"], "range": ["#000000", "#808080"]}, "legend": {"title": null}},
   "shape": {"datum": "Bat Temperature", "type": "nominal", "scale": {"domain": ["Bat Temperature", "Torpor Threshold"], "range": ["diamond", "square"]}, "legend": {"title": null}}
  }},
 {"data": {"name": "threshold"},
  "mark": {"type": "point", "filled": true, "size": 100, "opacity": 1},
  "encoding": {
   "x": {"field": "t", "type": "quantitative"},
   "y": {"field": "thr", "type": "quantitative"},
   "color": {"datum": "Torpor Threshold", "type": "nominal"},
   "shape": {"datum": "Torpor Threshold", "type": "nominal"}
  }}
]
}
